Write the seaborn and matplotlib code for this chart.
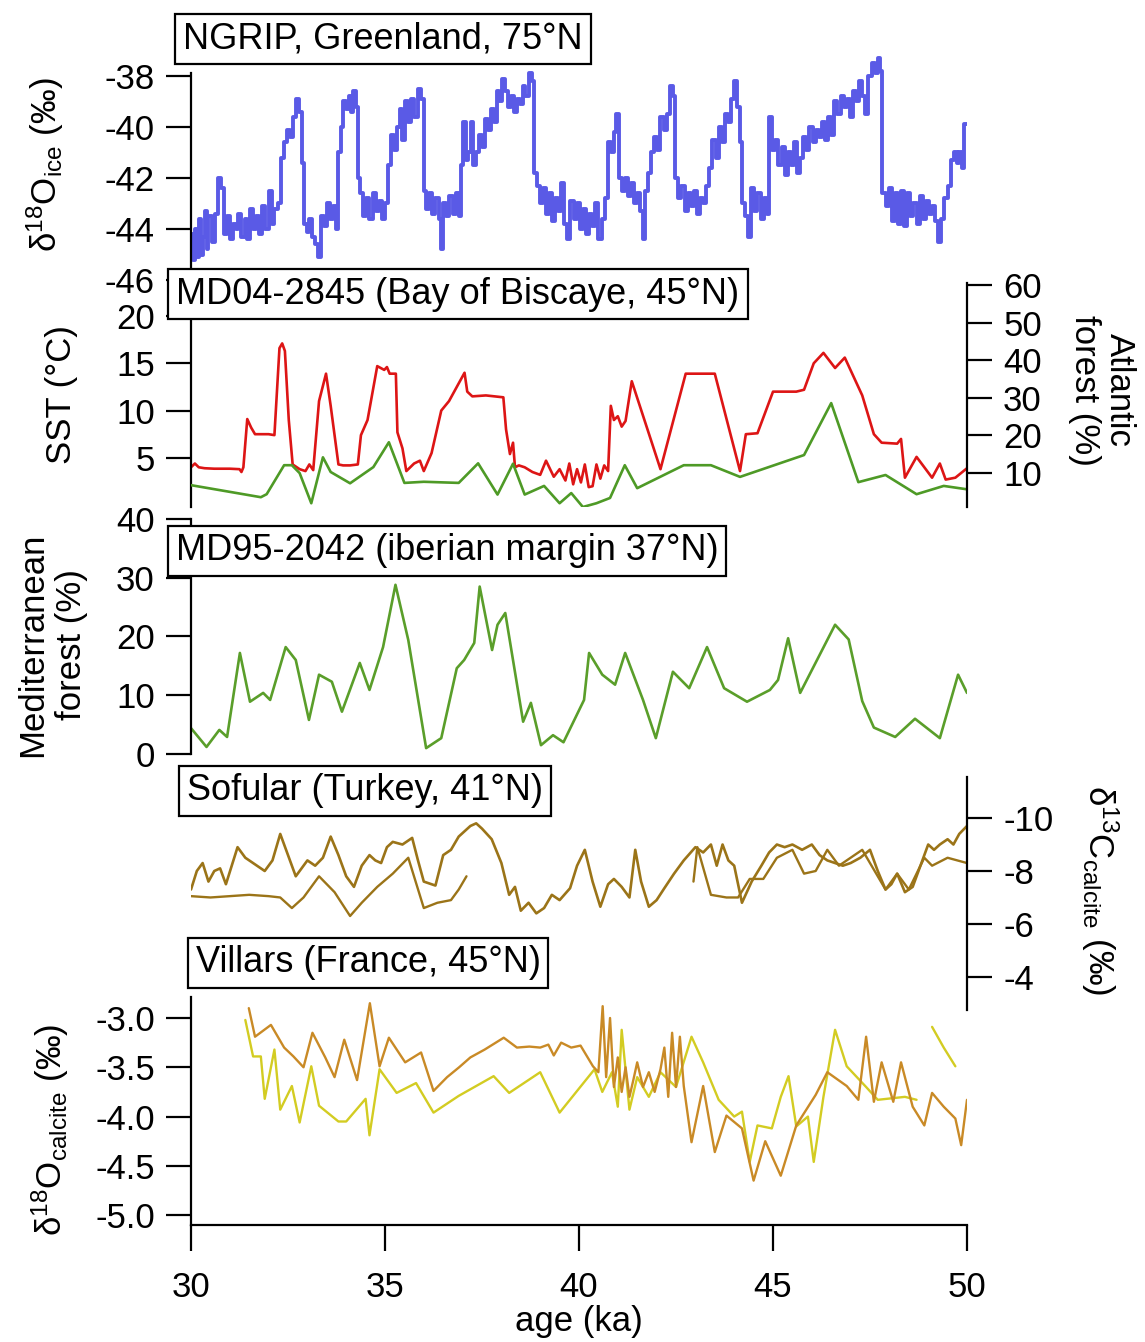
import matplotlib
matplotlib.use('Agg')
import matplotlib.pyplot as plt
import seaborn as sns

# ---- NGRIP d18O ice (permil) ----
ngrip_age = [30.00, 30.05, 30.10, 30.15, 30.20, 30.25, 30.30, 30.35, 30.40, 30.45, 30.55, 30.62,
             30.70, 30.78, 30.85, 30.92, 31.00, 31.08, 31.15, 31.22, 31.30, 31.38, 31.45, 31.52,
             31.60, 31.68, 31.76, 31.84, 31.92, 32.00, 32.08, 32.15, 32.25, 32.33, 32.40, 32.48,
             32.55, 32.62, 32.70, 32.78, 32.85, 32.90, 32.98, 33.05, 33.12, 33.20, 33.28, 33.35,
             33.42, 33.50, 33.58, 33.66, 33.74, 33.80, 33.86, 33.92, 34.00, 34.06, 34.12, 34.18,
             34.24, 34.30, 34.36, 34.44, 34.52, 34.60, 34.68, 34.76, 34.84, 34.92, 35.00, 35.08,
             35.15, 35.22, 35.30, 35.38, 35.45, 35.52, 35.60, 35.68, 35.76, 35.84, 35.92, 36.00,
             36.06, 36.14, 36.22, 36.30, 36.38, 36.44, 36.50, 36.58, 36.66, 36.74, 36.82, 36.90,
             36.96, 37.02, 37.08, 37.15, 37.22, 37.28, 37.35, 37.42, 37.50, 37.58, 37.65, 37.72,
             37.80, 37.88, 37.95, 38.02, 38.10, 38.18, 38.25, 38.32, 38.40, 38.48, 38.55, 38.62,
             38.70, 38.78, 38.85, 38.92, 39.00, 39.08, 39.15, 39.22, 39.30, 39.38, 39.46, 39.54,
             39.62, 39.70, 39.78, 39.86, 39.94, 40.02, 40.10, 40.18, 40.26, 40.34, 40.42, 40.50,
             40.58, 40.66, 40.74, 40.82, 40.90, 40.96, 41.02, 41.10, 41.18, 41.26, 41.34, 41.42,
             41.50, 41.58, 41.64, 41.70, 41.78, 41.86, 41.94, 42.02, 42.10, 42.18, 42.26, 42.34,
             42.42, 42.48, 42.56, 42.64, 42.72, 42.80, 42.88, 42.96, 43.04, 43.12, 43.20, 43.28,
             43.36, 43.44, 43.52, 43.60, 43.68, 43.76, 43.84, 43.92, 44.00, 44.08, 44.14, 44.20,
             44.28, 44.36, 44.44, 44.52, 44.60, 44.68, 44.76, 44.84, 44.90, 44.98, 45.06, 45.14,
             45.22, 45.30, 45.38, 45.46, 45.54, 45.62, 45.70, 45.78, 45.86, 45.94, 46.02, 46.10,
             46.18, 46.26, 46.34, 46.42, 46.50, 46.58, 46.66, 46.74, 46.82, 46.90, 46.98, 47.06,
             47.14, 47.22, 47.30, 47.38, 47.46, 47.54, 47.62, 47.70, 47.76, 47.82, 47.90, 47.98,
             48.06, 48.14, 48.22, 48.30, 48.38, 48.46, 48.54, 48.62, 48.70, 48.78, 48.86, 48.94,
             49.02, 49.10, 49.18, 49.26, 49.34, 49.42, 49.50, 49.58, 49.66, 49.74, 49.80, 49.86,
             49.92, 50.00]
ngrip_d18o = [-44.2, -45.2, -44.0, -45.1, -43.6, -45.0, -44.3, -43.3, -44.8, -43.5, -44.5, -43.4,
              -42.0, -42.4, -44.2, -43.5, -44.4, -43.8, -44.0, -43.4, -44.3, -43.6, -44.4, -43.2,
              -44.0, -43.5, -44.2, -43.1, -44.0, -42.5, -43.8, -43.2, -43.0, -41.2, -40.6, -40.1,
              -40.4, -39.6, -38.9, -39.4, -41.4, -43.8, -44.1, -43.6, -44.3, -44.6, -45.1, -43.5,
              -43.9, -43.0, -43.6, -43.1, -44.0, -41.0, -40.0, -39.0, -39.3, -38.8, -39.4, -38.6,
              -39.2, -42.0, -42.6, -43.5, -42.8, -43.6, -42.6, -43.3, -42.9, -43.6, -43.0, -41.5,
              -40.3, -40.9, -40.0, -39.3, -40.5, -39.0, -39.8, -38.9, -39.6, -38.5, -38.9, -42.5,
              -43.2, -42.6, -43.4, -42.8, -43.6, -44.8, -43.0, -43.5, -42.7, -43.4, -42.6, -43.5,
              -41.5, -39.8, -41.3, -41.0, -39.8, -41.5, -41.0, -40.3, -40.8, -39.7, -40.1, -39.3,
              -39.8, -38.6, -39.0, -38.1, -38.6, -39.2, -38.8, -39.4, -38.9, -39.1, -38.4, -38.8,
              -37.9, -38.2, -41.8, -42.3, -43.0, -42.4, -43.4, -42.6, -43.7, -42.8, -43.3, -42.2,
              -43.8, -44.4, -42.9, -43.6, -43.0, -44.0, -43.2, -44.2, -43.4, -43.9, -43.0, -44.4,
              -43.6, -42.8, -40.6, -41.0, -40.2, -39.5, -42.0, -42.5, -42.0, -42.7, -42.2, -43.0,
              -42.6, -43.3, -44.4, -42.5, -41.8, -41.0, -40.4, -40.9, -39.6, -40.1, -39.5, -38.4,
              -38.8, -42.0, -42.8, -42.3, -43.3, -42.6, -43.1, -42.5, -43.4, -42.8, -43.0, -42.3,
              -41.6, -40.5, -41.2, -40.0, -40.6, -39.5, -39.8, -38.9, -38.2, -39.2, -40.6, -43.0,
              -43.5, -44.3, -42.4, -43.3, -42.6, -43.6, -42.8, -43.4, -39.6, -40.9, -40.5, -41.5,
              -40.8, -41.9, -41.0, -41.5, -40.6, -41.8, -41.2, -40.4, -40.9, -40.0, -40.6, -40.1,
              -40.4, -39.8, -40.5, -39.6, -40.3, -39.0, -39.5, -38.8, -39.2, -38.9, -39.6, -38.6,
              -39.0, -38.2, -38.8, -39.5, -38.0, -37.5, -37.9, -37.3, -37.8, -42.6, -43.1, -42.4,
              -43.7, -42.6, -43.8, -42.5, -43.9, -42.6, -43.5, -43.0, -43.8, -42.7, -43.6, -42.9,
              -43.4, -43.1, -43.7, -44.5, -43.6, -42.8, -42.3, -41.3, -41.0, -41.4, -41.0, -41.6,
              -39.9, -39.9]

# ---- MD04-2845 SST (deg C) ----
sst_age = [30.00, 30.10, 30.20, 30.35, 30.60, 31.00, 31.25, 31.30, 31.35, 31.45, 31.55, 31.65,
           32.00, 32.15, 32.28, 32.35, 32.42, 32.52, 32.62, 32.80, 32.95, 33.05, 33.15, 33.30,
           33.48, 33.60, 33.80, 33.92, 34.10, 34.30, 34.38, 34.55, 34.80, 34.98, 35.05, 35.12,
           35.28, 35.32, 35.45, 35.55, 35.75, 35.90, 36.00, 36.20, 36.45, 36.65, 37.05, 37.12,
           37.25, 37.60, 38.05, 38.12, 38.22, 38.30, 38.35, 38.45, 38.60, 38.80, 39.00, 39.15,
           39.35, 39.50, 39.65, 39.75, 39.85, 39.95, 40.05, 40.15, 40.25, 40.35, 40.45, 40.55,
           40.65, 40.75, 40.82, 40.90, 41.00, 41.10, 41.20, 41.36, 42.10, 42.75, 43.50, 44.15,
           44.30, 44.60, 45.00, 45.60, 45.80, 46.05, 46.30, 46.60, 46.85, 47.30, 47.60, 47.80,
           48.20, 48.30, 48.40, 48.70, 49.10, 49.30, 49.45, 49.70, 50.00]
sst_val = [4.0, 4.4, 4.0, 3.9, 3.85, 3.85, 3.8, 3.5, 4.0, 9.1, 8.2, 7.5,
           7.5, 7.4, 16.6, 17.1, 16.3, 9.0, 4.3, 3.8, 3.6, 4.3, 3.7, 11.0,
           13.9, 10.5, 4.3, 4.2, 4.2, 4.3, 7.4, 9.0, 14.7, 14.3, 14.6, 13.9,
           13.9, 7.7, 6.0, 3.6, 4.4, 4.7, 3.6, 5.5, 10.0, 11.0, 14.0, 12.0,
           11.5, 11.6, 11.4, 8.0, 5.4, 6.6, 4.0, 4.2, 4.0, 3.5, 3.2, 4.7,
           3.0, 3.8, 2.6, 4.4, 2.2, 3.8, 2.4, 4.3, 1.9, 2.0, 4.3, 2.8,
           4.2, 3.6, 10.5, 9.0, 9.4, 8.3, 8.9, 13.1, 3.8, 13.9, 13.9, 3.6,
           7.5, 7.6, 12.0, 12.0, 12.2, 15.0, 16.1, 14.5, 15.6, 11.6, 7.5, 6.6,
           6.5, 7.0, 2.9, 5.1, 2.9, 4.4, 2.7, 2.9, 3.9]

# ---- MD04-2845 Atlantic forest (%) ----
atl_age = [30.00, 31.80, 31.95, 32.40, 32.60, 32.80, 33.10, 33.40, 33.60, 34.10, 34.70, 35.10,
           35.50, 36.00, 36.90, 37.40, 37.90, 38.30, 38.60, 39.10, 39.50, 39.80, 40.10, 40.45,
           40.80, 41.18, 41.50, 42.70, 43.40, 44.15, 45.80, 46.50, 47.20, 47.90, 48.70, 49.40,
           50.00]
atl_val = [6.8, 3.6, 4.4, 12.1, 12.1, 10.0, 2.0, 14.2, 10.3, 7.3, 11.6, 18.2,
           7.4, 7.7, 7.4, 12.6, 4.3, 12.5, 4.3, 6.6, 2.0, 4.7, 1.0, 2.0,
           3.4, 12.1, 6.0, 12.1, 12.1, 9.0, 14.8, 28.6, 7.6, 9.5, 4.4, 6.6,
           5.7]

# ---- MD95-2042 Mediterranean forest (%) ----
med_age = [30.00, 30.40, 30.73, 30.93, 31.26, 31.52, 31.86, 32.04, 32.44, 32.70, 33.04, 33.30,
           33.63, 33.89, 34.35, 34.60, 34.95, 35.27, 35.60, 36.06, 36.45, 36.85, 37.04, 37.30,
           37.44, 37.76, 37.90, 38.10, 38.56, 38.76, 39.02, 39.33, 39.60, 40.13, 40.26, 40.60,
           40.93, 41.19, 41.65, 41.98, 42.42, 42.84, 43.30, 43.74, 44.33, 44.92, 45.13, 45.39,
           45.70, 46.60, 46.95, 47.30, 47.60, 48.15, 48.66, 49.30, 49.77, 50.00]
med_val = [4.4, 1.2, 4.1, 2.9, 17.2, 8.9, 10.4, 9.2, 18.2, 16.0, 5.8, 13.5,
           12.3, 7.2, 15.5, 10.9, 18.2, 28.8, 19.4, 1.0, 2.7, 14.6, 16.0, 18.9,
           28.5, 17.7, 22.0, 24.0, 5.5, 8.7, 1.5, 3.2, 2.0, 9.2, 17.2, 13.5,
           11.8, 17.2, 9.2, 2.7, 14.0, 11.2, 18.2, 11.2, 8.9, 10.9, 12.6, 19.7,
           10.4, 22.0, 19.5, 9.0, 4.5, 2.9, 6.0, 2.7, 13.5, 10.4]

# ---- Sofular d13C calcite (permil), upper record ----
sofA_age = [30.00, 30.15, 30.30, 30.45, 30.60, 30.75, 30.90, 31.05, 31.20, 31.40, 31.60, 31.90,
            32.10, 32.30, 32.50, 32.70, 32.85, 33.00, 33.20, 33.40, 33.60, 33.80, 34.00, 34.20,
            34.40, 34.60, 34.75, 34.90, 35.05, 35.20, 35.45, 35.70, 35.85, 36.00, 36.30, 36.50,
            36.70, 36.90, 37.05, 37.20, 37.35, 37.50, 37.75, 38.00, 38.20, 38.35, 38.50, 38.70,
            38.90, 39.10, 39.30, 39.50, 39.77, 39.95, 40.15, 40.35, 40.55, 40.75, 40.90, 41.10,
            41.30, 41.45, 41.60, 41.80, 42.00, 42.20, 42.45, 42.70, 43.00, 43.20, 43.40, 43.55,
            43.70, 43.85, 44.00, 44.20, 44.45, 44.70, 44.90, 45.10, 45.30, 45.50, 45.75, 46.00,
            46.20, 46.40, 46.60, 46.80, 47.00, 47.25, 47.50, 47.70, 47.90, 48.05, 48.20, 48.40,
            48.60, 48.80, 49.00, 49.15, 49.30, 49.50, 49.65, 49.80, 50.00]
sofA_val = [-7.3, -8.0, -8.3, -7.6, -8.0, -8.1, -7.5, -8.2, -8.9, -8.5, -8.3, -8.0,
            -8.4, -9.4, -8.6, -7.8, -8.1, -8.4, -8.2, -8.5, -9.3, -8.6, -7.8, -7.4,
            -8.2, -8.6, -8.4, -8.3, -8.9, -9.1, -9.0, -9.25, -8.4, -7.6, -7.45, -8.6,
            -8.8, -9.3, -9.5, -9.7, -9.8, -9.6, -9.2, -8.3, -7.1, -7.4, -6.5, -6.8,
            -6.4, -6.6, -7.1, -6.9, -7.35, -8.2, -8.8, -7.6, -6.65, -7.5, -7.7, -7.4,
            -7.0, -8.8, -7.6, -6.65, -6.9, -7.35, -7.9, -8.4, -8.9, -8.7, -9.0, -8.2,
            -9.0, -8.4, -8.2, -6.8, -7.6, -8.2, -8.7, -9.0, -8.9, -9.0, -8.8, -9.0,
            -8.6, -8.4, -8.3, -8.2, -8.3, -8.5, -8.8, -8.0, -7.3, -7.5, -7.9, -7.2,
            -7.4, -8.2, -9.0, -8.8, -9.0, -9.2, -9.0, -9.4, -9.7]

# ---- Sofular d13C calcite (permil), lower record (two pieces) ----
sofB1_age = [30.00, 30.50, 31.00, 31.50, 32.00, 32.30, 32.60, 32.90, 33.30, 33.70, 34.10, 34.40,
             34.80, 35.20, 35.60, 36.00, 36.35, 36.70, 36.90, 37.10]
sofB1_val = [-7.05, -7.0, -7.05, -7.1, -7.05, -7.0, -6.6, -7.0, -7.8, -7.2, -6.3, -6.8,
             -7.4, -7.9, -8.5, -6.6, -6.8, -6.9, -7.3, -7.8]
sofB2_age = [42.95, 43.05, 43.40, 43.80, 44.10, 44.40, 44.75, 45.10, 45.50, 45.80, 46.10, 46.40,
             46.70, 47.30, 47.90, 48.20, 48.50, 48.90, 49.10, 49.50, 50.00]
sofB2_val = [-7.6, -8.9, -7.1, -7.0, -7.0, -7.7, -7.7, -8.5, -8.8, -7.9, -8.0, -8.8,
             -8.2, -8.8, -7.3, -7.9, -7.3, -8.5, -8.2, -8.5, -8.3]

# ---- Villars d18O calcite (permil), brown record ----
vilA_age = [31.49, 31.65, 32.06, 32.40, 32.64, 32.90, 33.13, 33.46, 33.70, 33.95, 34.28, 34.61,
            34.86, 35.10, 35.52, 35.93, 36.25, 36.60, 36.91, 37.20, 37.57, 38.06, 38.40, 38.72,
            39.00, 39.21, 39.35, 39.54, 39.80, 40.04, 40.36, 40.50, 40.61, 40.70, 40.80, 40.90,
            41.00, 41.10, 41.20, 41.30, 41.40, 41.50, 41.65, 41.80, 41.95, 42.10, 42.20, 42.30,
            42.40, 42.50, 42.60, 42.70, 42.90, 43.20, 43.50, 43.80, 44.20, 44.50, 44.80, 45.20,
            45.60, 46.10, 46.40, 46.90, 47.20, 47.40, 47.60, 47.80, 48.10, 48.30, 48.60, 48.90,
            49.10, 49.40, 49.70, 49.85, 50.00]
vilA_val = [-2.90, -3.19, -3.07, -3.30, -3.39, -3.50, -3.15, -3.40, -3.60, -3.22, -3.63, -2.85,
            -3.49, -3.20, -3.45, -3.35, -3.74, -3.60, -3.50, -3.40, -3.32, -3.20, -3.30, -3.29,
            -3.30, -3.27, -3.38, -3.25, -3.30, -3.28, -3.49, -3.55, -2.88, -3.60, -3.00, -3.70,
            -3.40, -3.75, -3.50, -3.80, -3.63, -3.45, -3.70, -3.55, -3.75, -3.52, -3.30, -3.80,
            -3.15, -3.70, -3.19, -3.69, -4.26, -3.69, -4.36, -3.99, -4.12, -4.65, -4.25, -4.60,
            -4.09, -3.78, -3.55, -3.69, -3.83, -3.19, -3.85, -3.45, -3.85, -3.45, -3.90, -4.09,
            -3.76, -3.90, -4.02, -4.29, -3.83]

# ---- Villars d18O calcite (permil), yellow record (two pieces) ----
vilB1_age = [31.40, 31.60, 31.80, 31.90, 32.15, 32.30, 32.60, 32.80, 33.10, 33.30, 33.80, 34.00,
             34.50, 34.60, 34.86, 35.30, 35.80, 36.25, 36.90, 37.80, 38.20, 39.00, 39.50, 40.40,
             40.60, 40.85, 41.00, 41.10, 41.30, 41.50, 41.80, 42.10, 42.50, 42.90, 43.20, 43.60,
             44.00, 44.20, 44.40, 44.60, 44.97, 45.20, 45.40, 45.60, 45.90, 46.05, 46.30, 46.60,
             46.90, 47.40, 47.70, 48.40, 48.70]
vilB1_val = [-3.02, -3.39, -3.39, -3.82, -3.32, -3.93, -3.69, -4.06, -3.49, -3.89, -4.05, -4.05,
             -3.82, -4.19, -3.52, -3.76, -3.66, -3.96, -3.79, -3.59, -3.76, -3.55, -3.96, -3.52,
             -3.75, -3.55, -3.90, -3.12, -3.93, -3.60, -3.80, -3.55, -3.70, -3.19, -3.45, -3.83,
             -4.00, -3.95, -4.46, -4.09, -4.12, -3.80, -3.59, -4.10, -4.00, -4.46, -3.80, -3.12,
             -3.49, -3.70, -3.83, -3.80, -3.83]
vilB2_age = [49.10, 49.40, 49.70]
vilB2_val = [-3.09, -3.30, -3.49]

age_ticks = [30, 35, 40, 45, 50]

# ---- figure ----
sns.set_style('white')
plt.rcParams['font.family'] = ['Liberation Sans', 'DejaVu Sans']
plt.rcParams['text.color'] = 'black'
plt.rcParams['axes.unicode_minus'] = False
plt.rcParams['mathtext.fontset'] = 'custom'
plt.rcParams['mathtext.rm'] = 'Liberation Sans'
plt.rcParams['mathtext.it'] = 'Liberation Sans:italic'

W, H = 1145, 1342
fig = plt.figure(figsize=(W / 100, H / 100), dpi=100)
FS = 25


def panel(y_top, y_bot, side, ylim, yticks, bounds=None):
    # one axes per record, positioned in pixels of the reference
    ax = fig.add_axes([191 / W, 1 - y_bot / H, 776 / W, (y_bot - y_top) / H])
    ax.patch.set_alpha(0)
    for s in ax.spines.values():
        s.set_visible(False)
    ax.spines[side].set_visible(True)
    ax.spines[side].set_linewidth(1.6)
    ax.spines[side].set_color('black')
    if bounds:
        ax.spines[side].set_bounds(*bounds)
    ax.set_xlim(30, 50)
    ax.set_ylim(*ylim)
    ax.set_xticks([])
    ax.set_yticks(yticks)
    ax.yaxis.set_ticks_position(side)
    ax.tick_params(axis='y', direction='out', length=18, width=1.6, labelsize=FS,
                   pad=8, colors='black', left=(side == 'left'), right=(side == 'right'),
                   labelleft=(side == 'left'), labelright=(side == 'right'))
    ax.grid(False)
    return ax


def line(ax, x, y, color, lw=1.6, **kw):
    sns.lineplot(x=x, y=y, ax=ax, color=color, linewidth=lw, estimator=None,
                 sort=False, **kw)
    ax.set_xlabel('')
    ax.set_ylabel('')


# NGRIP
ax1 = panel(55.6, 280, 'left', (-46, -37.2), [-46, -44, -42, -40, -38], bounds=(-46, -37.9))
line(ax1, ngrip_age, ngrip_d18o, '#5A5AE6', lw=2.8, drawstyle='steps-post')

# MD04-2845
ax2 = panel(316, 507, 'left', (-0.2, 20), [5, 10, 15, 20])
ax2r = panel(283, 507, 'right', (1, 60.5), [10, 20, 30, 40, 50, 60])
line(ax2r, atl_age, atl_val, '#4E9A26', lw=1.9)
line(ax2, sst_age, sst_val, '#DD1515', lw=1.9)

# MD95-2042
ax3 = panel(519, 754, 'left', (0, 40), [0, 10, 20, 30, 40])
line(ax3, med_age, med_val, '#5A9E2A', lw=1.9)

# Sofular
ax4 = panel(777, 1010, 'right', (-2.75, -11.55), [-4, -6, -8, -10])
line(ax4, sofB1_age, sofB1_val, '#9B7418', lw=1.7)
line(ax4, sofB2_age, sofB2_val, '#9B7418', lw=1.7)
line(ax4, sofA_age, sofA_val, '#9B7418', lw=1.9)

# Villars
ax5 = panel(997, 1225, 'left', (-5.1, -2.787), [-5.0, -4.5, -4.0, -3.5, -3.0])
ax5.set_yticklabels(['-5.0', '-4.5', '-4.0', '-3.5', '-3.0'])
line(ax5, vilB1_age, vilB1_val, '#D3CC22', lw=1.7)
line(ax5, vilB2_age, vilB2_val, '#D3CC22', lw=1.7)
line(ax5, vilA_age, vilA_val, '#C98A26', lw=1.7)
ax5.spines['bottom'].set_visible(True)
ax5.spines['bottom'].set_linewidth(1.6)
ax5.spines['bottom'].set_color('black')
ax5.set_xticks(age_ticks)
ax5.xaxis.set_ticks_position('bottom')
ax5.tick_params(axis='x', direction='out', length=19, width=1.6, labelsize=FS,
                pad=14, colors='black', bottom=True)


def px(x, y):
    return x / W, 1 - y / H


# axis titles
lab = dict(fontsize=FS, ha='center', va='center', multialignment='center', color='black')
fig.text(*px(579, 1322), 'age (ka)', **lab)
fig.text(*px(45, 165), r'δ$^{\mathregular{18}}$O$_{\mathregular{ice}}$ (‰)', rotation=90, **lab)
fig.text(*px(62, 395), 'SST (°C)', rotation=90, **lab)
fig.text(*px(1102, 390), 'Atlantic\nforest (%)', rotation=270, linespacing=1.1, **lab)
fig.text(*px(52, 645), 'Mediterranean\nforest (%)', rotation=90, linespacing=1.25, **lab)
fig.text(*px(1100, 890), r'δ$^{\mathregular{13}}$C$_{\mathregular{calcite}}$ (‰)', rotation=270, **lab)
fig.text(*px(50, 1130), r'δ$^{\mathregular{18}}$O$_{\mathregular{calcite}}$ (‰)', rotation=90, **lab)

# record name boxes
box = dict(boxstyle='square,pad=0.22', fc='white', ec='black', lw=1.6)
names = ['NGRIP, Greenland, 75°N', 'MD04-2845 (Bay of Biscaye, 45°N)',
         'MD95-2042 (iberian margin 37°N)', 'Sofular (Turkey, 41°N)', 'Villars (France, 45°N)']
centers = [(383, 39), (458, 294), (447, 551), (365, 791), (368, 963)]
for name, (cx, cy) in zip(names, centers):
    fig.text(*px(cx, cy), name, fontsize=FS + 1, ha='center', va='center', color='black',
             bbox=box)

fig.savefig('out.png', dpi=100)
